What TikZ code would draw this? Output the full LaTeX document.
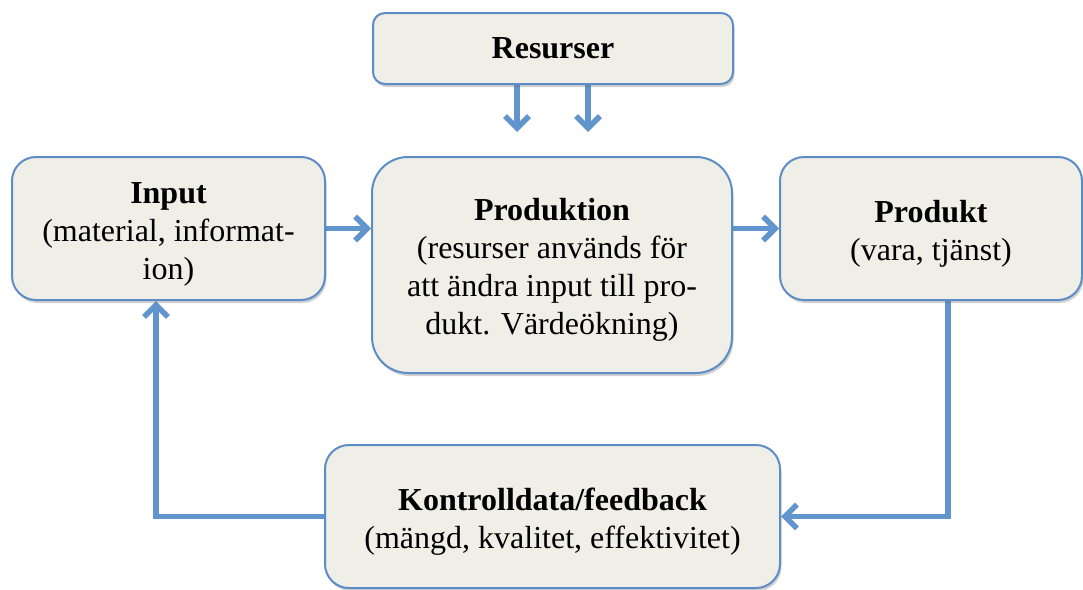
\documentclass[tikz,border=0pt]{standalone}
\usepackage{fontspec}
\setmainfont{Liberation Serif}
\usepackage{tikz}
\usetikzlibrary{arrows.meta, shadows}
\pgfdeclarelayer{bg}
\pgfsetlayers{bg,main}
\definecolor{boxfill}{RGB}{239,238,231}
\definecolor{boxline}{RGB}{93,140,198}
\definecolor{flowcol}{RGB}{98,148,205}
\newcommand{\headstrut}{\rule{0pt}{32pt}}
\tikzset{every picture/.append style={x=1pt, y=-1pt}}
\tikzset{
    every node/.style={font=\fontsize{32}{38}\selectfont, align=center},
    stage/.style={rectangle, draw=boxline, line width=2pt, fill=boxfill,
        inner sep=0pt,
        drop shadow={shadow xshift=1.5pt, shadow yshift=-3pt,
        opacity=.3, fill=black!60}},
    flow/.style={draw=flowcol, line width=5.5pt,
        -{Straight Barb[length=12pt, width=24pt]}}
}

\begin{document}
\begin{tikzpicture}
  \useasboundingbox (0,0) rectangle (1083,589);

  \node[stage, rounded corners=12pt, minimum width=360pt, minimum height=71pt]
    (res) at (553, 48.5) {\textbf{Resurser}};
  \node[stage, rounded corners=24pt, minimum width=313pt, minimum height=143pt]
    (input) at (168.5, 228.5) {\headstrut\textbf{Input}\\(material, informat-\\ion)};
  \node[stage, rounded corners=36pt, minimum width=360pt, minimum height=216pt]
    (prod) at (552, 265) {\headstrut\textbf{Produktion}\\(resurser används för\\att ändra input till pro-\\dukt. Värdeökning)};
  \node[stage, rounded corners=24pt, minimum width=302pt, minimum height=143pt]
    (produkt) at (931, 228.5) {\headstrut\textbf{Produkt}\\(vara, tjänst)};
  \node[stage, rounded corners=24pt, minimum width=455pt, minimum height=143pt]
    (ctrl) at (552.5, 516.5) {\headstrut\textbf{Kontrolldata/feedback}\\(mängd, kvalitet, effektivitet)};

  \begin{pgfonlayer}{bg}
    \draw[flow, shorten >=24pt] ([xshift=-36pt]res.south) -- ([xshift=-36pt]res.south |- prod.north);
    \draw[flow, shorten >=24pt] ([xshift=35pt]res.south) -- ([xshift=35pt]res.south |- prod.north);
    \draw[flow] (input.east) -- (input.east -| prod.west);
    \draw[flow] (prod.east |- produkt.west) -- (produkt.west);
    \draw[flow] ([xshift=17pt]produkt.south) |- (ctrl.east);
    \draw[flow] (ctrl.west) -| ([xshift=-12.5pt]input.south);
  \end{pgfonlayer}

\end{tikzpicture}
\end{document}
